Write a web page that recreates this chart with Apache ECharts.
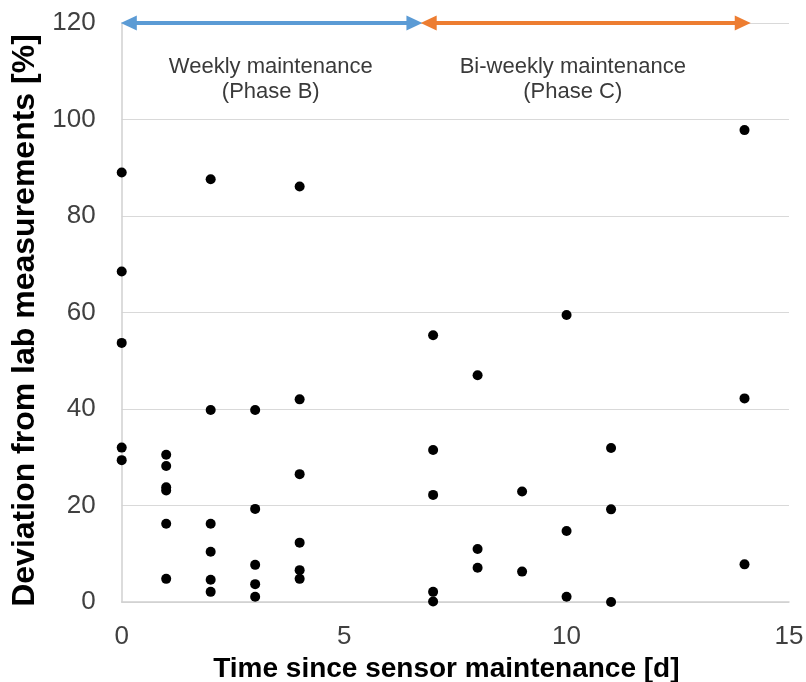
<!DOCTYPE html>
<html>
<head>
<meta charset="utf-8">
<script src="https://cdn.jsdelivr.net/npm/echarts@6/dist/echarts.min.js"></script>
<style>
html,body{margin:0;padding:0;background:#fff;}
#chart{width:806px;height:682px;}
</style>
</head>
<body>
<div id="chart"></div>
<script>
const days = [0,0,0,0,0, 1,1,1,1,1,1, 2,2,2,2,2,2, 3,3,3,3,3, 4,4,4,4,4,4, 7,7,7,7,7, 8,8,8, 9,9, 10,10,10, 11,11,11, 14,14,14];
const deviation = [89,68.5,53.7,32,29.4, 30.5,28.2,23.8,23.1,16.2,4.8, 87.6,39.8,16.2,10.4,4.6,2.1, 39.8,19.3,7.7,3.7,1.1, 86.1,42.0,26.5,12.3,6.6,4.8, 55.3,31.5,22.2,2.1,0.1, 47.0,11.0,7.1, 22.9,6.3, 59.5,14.7,1.1, 31.9,19.2,0, 97.8,42.2,7.8];
const xTicks = [0,5,10,15];
const yTicks = [0,20,40,60,80,100,120];
const phaseB = {from:0.16, to:6.58, y:120, label:'Weekly maintenance\n(Phase B)', labelX:3.35, labelY:108.3};
const phaseC = {from:6.9, to:13.96, y:120, label:'Bi-weekly maintenance\n(Phase C)', labelX:10.14, labelY:108.3};

const FONT = "'Liberation Sans', Arial, Helvetica, sans-serif";
const chart = echarts.init(document.getElementById('chart'));
const points = days.map((d,i)=>[d, deviation[i]]);

chart.setOption({
  animation:false,
  grid:{left:121.7, right:17, top:23, bottom:80, containLabel:false, outerBoundsMode:'none'},
  xAxis:{
    type:'value', min:xTicks[0], max:xTicks[xTicks.length-1], interval:5,
    name:'Time since sensor maintenance [d]', nameLocation:'middle', nameGap:38,
    nameTextStyle:{fontFamily:FONT, fontWeight:'bold', fontSize:28, color:'#000', padding:[0,18,0,0]},
    axisLine:{show:true, lineStyle:{color:'#d0d0d0', width:1.5}},
    axisTick:{show:false},
    splitLine:{show:false},
    axisLabel:{fontFamily:FONT, fontSize:26, color:'#404040', margin:22}
  },
  yAxis:{
    type:'value', min:yTicks[0], max:yTicks[yTicks.length-1], interval:20,
    name:'Deviation from lab measurements [%]', nameLocation:'middle', nameGap:68, nameRotate:90,
    nameTextStyle:{fontFamily:FONT, fontWeight:'bold', fontSize:32, color:'#000', padding:[0,16,0,0]},
    axisLine:{show:true, lineStyle:{color:'#d0d0d0', width:1.5}},
    axisTick:{show:false},
    splitLine:{show:true, lineStyle:{color:'#d9d9d9', width:1.2}},
    axisLabel:{fontFamily:FONT, fontSize:26, color:'#404040', margin:26}
  },
  series:[
    {
      type:'scatter', data:points, symbol:'circle', symbolSize:10,
      itemStyle:{color:'#000', opacity:1},
      emphasis:{disabled:true},
      markLine:{
        silent:true, symbol:['triangle','triangle'], symbolSize:[15,16],
        label:{show:false},
        data:[
          [{coord:[phaseB.from, phaseB.y], lineStyle:{color:'#5B9BD5', width:4, type:'solid'}, itemStyle:{color:'#5B9BD5'}}, {coord:[phaseB.to, phaseB.y]}],
          [{coord:[phaseC.from, phaseC.y], lineStyle:{color:'#ED7D31', width:4, type:'solid'}, itemStyle:{color:'#ED7D31'}}, {coord:[phaseC.to, phaseC.y]}]
        ]
      },
      markPoint:{
        silent:true, symbol:'circle', symbolSize:0,
        label:{show:true, position:'inside', fontFamily:FONT, fontSize:22, lineHeight:25, color:'#3a3a3a', align:'center', formatter:p=>p.name},
        data:[
          {name:phaseB.label, coord:[phaseB.labelX, phaseB.labelY]},
          {name:phaseC.label, coord:[phaseC.labelX, phaseC.labelY]}
        ]
      }
    }
  ]
});
</script>
</body>
</html>
